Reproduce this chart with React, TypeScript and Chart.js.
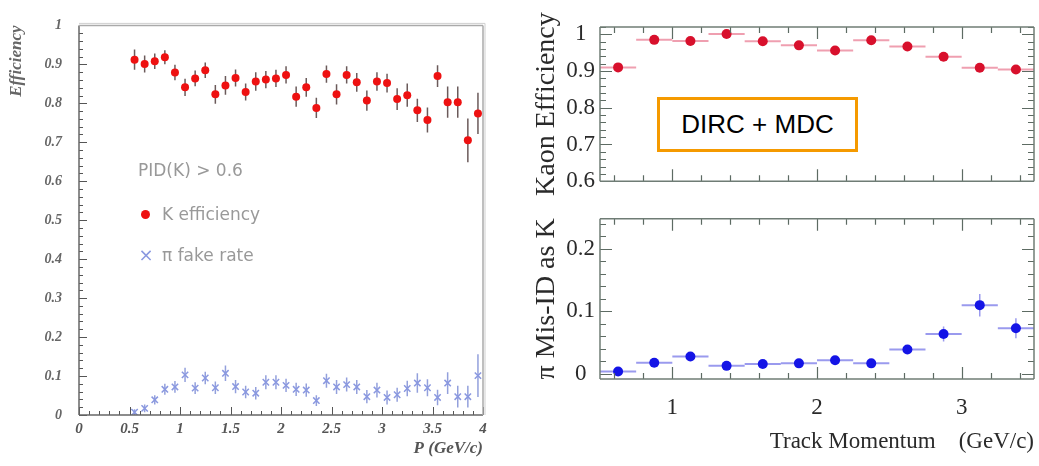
import React, { useEffect, useRef } from "react";
import { Chart, registerables } from "chart.js";

Chart.register(...registerables);

// ---------- Left panel data (bins of 0.1 GeV/c) ----------
const leftMomentum = [
  0.55, 0.65, 0.75, 0.85, 0.95, 1.05, 1.15, 1.25, 1.35, 1.45, 1.55, 1.65,
  1.75, 1.85, 1.95, 2.05, 2.15, 2.25, 2.35, 2.45, 2.55, 2.65, 2.75, 2.85,
  2.95, 3.05, 3.15, 3.25, 3.35, 3.45, 3.55, 3.65, 3.75, 3.85, 3.95,
];
const kEfficiency = [
  0.912, 0.901, 0.908, 0.918, 0.879, 0.841, 0.864, 0.885, 0.823, 0.846,
  0.865, 0.829, 0.856, 0.861, 0.864, 0.873, 0.817, 0.841, 0.788, 0.875,
  0.823, 0.873, 0.854, 0.807, 0.856, 0.852, 0.811, 0.821, 0.782, 0.757,
  0.87, 0.803, 0.803, 0.705, 0.774,
];
const kEfficiencyErr = [
  0.026, 0.022, 0.02, 0.018, 0.02, 0.022, 0.02, 0.02, 0.024, 0.024, 0.022,
  0.022, 0.024, 0.022, 0.022, 0.022, 0.026, 0.024, 0.026, 0.022, 0.026,
  0.022, 0.024, 0.026, 0.024, 0.024, 0.028, 0.03, 0.03, 0.032, 0.028, 0.04,
  0.04, 0.056, 0.053,
];
const piFakeRate = [
  0.007, 0.017, 0.039, 0.066, 0.072, 0.103, 0.069, 0.095, 0.07, 0.107, 0.073,
  0.059, 0.056, 0.084, 0.084, 0.076, 0.066, 0.064, 0.037, 0.088, 0.072,
  0.078, 0.072, 0.047, 0.064, 0.045, 0.052, 0.068, 0.082, 0.07, 0.045, 0.082,
  0.047, 0.047, 0.101,
];
const piFakeRateErr = [
  0.008, 0.01, 0.012, 0.014, 0.015, 0.018, 0.015, 0.016, 0.016, 0.02, 0.017,
  0.016, 0.016, 0.018, 0.018, 0.017, 0.017, 0.017, 0.014, 0.018, 0.018,
  0.018, 0.018, 0.017, 0.019, 0.018, 0.018, 0.02, 0.025, 0.022, 0.02, 0.028,
  0.028, 0.028, 0.055,
];
const leftXTicks = [0, 0.5, 1, 1.5, 2, 2.5, 3, 3.5, 4];
const leftYTicks = [0, 0.1, 0.2, 0.3, 0.4, 0.5, 0.6, 0.7, 0.8, 0.9, 1];

// ---------- Right panels data (bins of 0.25 GeV/c) ----------
const trackMomentum = [
  0.625, 0.875, 1.125, 1.375, 1.625, 1.875, 2.125, 2.375, 2.625, 2.875,
  3.125, 3.375,
];
const binHalfWidth = [
  0.125, 0.125, 0.125, 0.125, 0.125, 0.125, 0.125, 0.125, 0.125, 0.125,
  0.125, 0.125,
];
const kaonEfficiency = [
  0.91, 0.985, 0.982, 1.001, 0.981, 0.97, 0.956, 0.984, 0.967, 0.939, 0.909,
  0.904,
];
const kaonEfficiencyErr = [
  0.004, 0.003, 0.003, 0.003, 0.003, 0.003, 0.004, 0.004, 0.004, 0.005,
  0.006, 0.006,
];
const piMisId = [
  0.004, 0.018, 0.028, 0.013, 0.016, 0.017, 0.022, 0.017, 0.039, 0.064, 0.11,
  0.073,
];
const piMisIdErr = [
  0.003, 0.004, 0.005, 0.004, 0.004, 0.004, 0.005, 0.005, 0.007, 0.012,
  0.018, 0.016,
];
const rightXTicks = [1, 2, 3];
const rightTopYTicks = [0.6, 0.7, 0.8, 0.9, 1];
const rightBottomYTicks = [0, 0.1, 0.2];

const fmt = (v: number) => String(Math.round(v * 1000) / 1000);
const isMult = (v: number, step: number) =>
  Math.abs(v / step - Math.round(v / step)) < 1e-6;
const setTicks = (values: number[]) => (s: any) => {
  s.ticks = values.map((value) => ({ value }));
};

const pts = (xs: number[], ys: number[]) => xs.map((x, i) => ({ x, y: ys[i] }));

// Error bars plugin (drawn via the chart scales)
const errorBarsPlugin = {
  id: "errorBars",
  beforeDatasetsDraw(chart: any) {
    const { ctx, chartArea, scales } = chart;
    const xs = scales.x;
    const ys = scales.y;
    ctx.save();
    ctx.beginPath();
    ctx.rect(chartArea.left, chartArea.top, chartArea.right - chartArea.left, chartArea.bottom - chartArea.top);
    ctx.clip();
    chart.data.datasets.forEach((ds: any) => {
      ds.data.forEach((p: any, j: number) => {
        const px = xs.getPixelForValue(p.x);
        const py = ys.getPixelForValue(p.y);
        if (ds.xErr) {
          ctx.strokeStyle = ds.xErrColor || ds.errColor;
          ctx.lineWidth = ds.xErrWidth || 1.5;
          ctx.beginPath();
          ctx.moveTo(xs.getPixelForValue(p.x - ds.xErr[j]), py);
          ctx.lineTo(xs.getPixelForValue(p.x + ds.xErr[j]), py);
          ctx.stroke();
        }
        if (ds.yErr) {
          ctx.strokeStyle = ds.errColor;
          ctx.lineWidth = ds.errWidth || 1.5;
          ctx.beginPath();
          ctx.moveTo(px, ys.getPixelForValue(p.y - ds.yErr[j]));
          ctx.lineTo(px, ys.getPixelForValue(p.y + ds.yErr[j]));
          ctx.stroke();
        }
      });
    });
    ctx.restore();
  },
};

// Frame + ROOT-like inward ticks plugin
const frameTicksPlugin = {
  id: "frameTicks",
  afterDraw(chart: any, _args: any, opts: any) {
    if (!opts || !opts.enabled) return;
    const { ctx, chartArea: a, scales } = chart;
    const xs = scales.x;
    const ys = scales.y;
    ctx.save();
    const drawTicks = (axis: "x" | "y") => {
      const sc = axis === "x" ? xs : ys;
      const major = opts[axis + "Major"];
      const minor = opts[axis + "Minor"];
      const start = Math.ceil(sc.min / minor - 1e-6);
      const end = Math.floor(sc.max / minor + 1e-6);
      ctx.strokeStyle = opts.tickColor;
      ctx.lineWidth = opts.tickWidth;
      for (let k = start; k <= end; k++) {
        const v = k * minor;
        const len = isMult(v, major) ? opts.majorLen : opts.minorLen;
        const p = Math.round(sc.getPixelForValue(v)) + 0.5;
        ctx.beginPath();
        if (axis === "x") {
          ctx.moveTo(p, a.bottom);
          ctx.lineTo(p, a.bottom - len);
          if (opts.mirror) {
            ctx.moveTo(p, a.top);
            ctx.lineTo(p, a.top + len);
          }
        } else {
          ctx.moveTo(a.left, p);
          ctx.lineTo(a.left + len, p);
          if (opts.mirror) {
            ctx.moveTo(a.right, p);
            ctx.lineTo(a.right - len, p);
          }
        }
        ctx.stroke();
      }
    };
    drawTicks("x");
    drawTicks("y");
    const line = (x1: number, y1: number, x2: number, y2: number, c: string, w: number) => {
      ctx.strokeStyle = c;
      ctx.lineWidth = w;
      ctx.beginPath();
      ctx.moveTo(x1, y1);
      ctx.lineTo(x2, y2);
      ctx.stroke();
    };
    const f = opts.frame;
    line(a.left, a.top, a.left, a.bottom, f.left, f.width);
    line(a.left, a.bottom, a.right, a.bottom, f.bottom, f.width);
    line(a.left, a.top, a.right, a.top, f.top, f.width);
    line(a.right, a.top, a.right, a.bottom, f.right, f.width);
    if (f.double) {
      line(a.left, a.top - 2, a.right + 2, a.top - 2, f.double, 1);
      line(a.right + 2, a.top - 2, a.right + 2, a.bottom, f.double, 1);
    }
    ctx.restore();
  },
};

Chart.register(errorBarsPlugin as any, frameTicksPlugin as any);

const SERIF = "'Liberation Serif', 'Times New Roman', serif";
const noGrid = { display: true, drawOnChartArea: false, drawTicks: false, color: "transparent" };

function leftConfig(): any {
  return {
    type: "scatter",
    data: {
      datasets: [
        {
          label: "K efficiency",
          data: pts(leftMomentum, kEfficiency),
          yErr: kEfficiencyErr,
          errColor: "#6b5a5a",
          errWidth: 1.5,
          pointStyle: "circle",
          pointRadius: 4,
          backgroundColor: "#ee1111",
          borderColor: "#ee1111",
          borderWidth: 0,
        },
        {
          label: "π fake rate",
          data: pts(leftMomentum, piFakeRate),
          yErr: piFakeRateErr,
          errColor: "#93a0dc",
          errWidth: 1.5,
          pointStyle: "crossRot",
          pointRadius: 4.5,
          backgroundColor: "#8a98e0",
          borderColor: "#8a98e0",
          borderWidth: 1.5,
        },
      ],
    },
    options: {
      responsive: false,
      maintainAspectRatio: false,
      animation: false,
      events: [],
      layout: { padding: { left: 0, top: 10, right: 17, bottom: 0 } },
      plugins: {
        legend: { display: false },
        tooltip: { enabled: false },
        frameTicks: {
          enabled: true,
          xMajor: 0.5,
          xMinor: 0.1,
          yMajor: 0.1,
          yMinor: 0.02,
          majorLen: 8,
          minorLen: 4,
          mirror: false,
          tickColor: "#555",
          tickWidth: 1,
          frame: { left: "#666", bottom: "#666", top: "#aaa", right: "#aaa", width: 1.5, double: "#cfcfcf" },
        },
      },
      scales: {
        x: {
          type: "linear",
          min: 0,
          max: 4,
          grid: noGrid,
          border: { display: false },
          afterFit: (s: any) => { s.height = 51; },
          afterBuildTicks: setTicks(leftXTicks),
          ticks: {
            padding: 5,
            color: "#555",
            font: { family: SERIF, size: 15, style: "italic", weight: "bold" },
            callback: (v: number) => fmt(v),
            maxRotation: 0,
            autoSkip: false,
          },
          title: {
            display: true,
            text: "P (GeV/c)",
            align: "end",
            color: "#555",
            font: { family: SERIF, size: 17, style: "italic", weight: "bold" },
            padding: { top: 0, bottom: 7 },
          },
        },
        y: {
          type: "linear",
          min: 0,
          max: 1,
          grid: noGrid,
          border: { display: false },
          afterFit: (s: any) => { s.width = 79; },
          afterBuildTicks: setTicks(leftYTicks),
          ticks: {
            padding: 17,
            color: "#666",
            font: { family: SERIF, size: 14, style: "italic", weight: "bold" },
            callback: (v: number) => fmt(v),
            autoSkip: false,
          },
          title: {
            display: true,
            text: "Efficiency",
            align: "end",
            color: "#666",
            font: { family: SERIF, size: 17, style: "italic", weight: "bold" },
            padding: { top: 6, bottom: 0 },
          },
        },
      },
    },
  };
}

const rightFrame = {
  enabled: true,
  xMajor: 1,
  xMinor: 0.2,
  yMajor: 0.1,
  yMinor: 0.02,
  majorLen: 12,
  minorLen: 6,
  mirror: true,
  tickColor: "#5d6b63",
  tickWidth: 1.2,
  frame: { left: "#6f7c75", bottom: "#6f7c75", top: "#6f7c75", right: "#6f7c75", width: 1.5 },
};

function rightTopConfig(): any {
  return {
    type: "scatter",
    data: {
      datasets: [
        {
          label: "Kaon Efficiency",
          data: pts(trackMomentum, kaonEfficiency),
          yErr: kaonEfficiencyErr,
          xErr: binHalfWidth,
          errColor: "#e795a6",
          xErrColor: "#ef9fb0",
          xErrWidth: 2,
          pointStyle: "circle",
          pointRadius: 5,
          backgroundColor: "#d8102c",
          borderColor: "#d8102c",
          borderWidth: 0,
        },
      ],
    },
    options: {
      responsive: false,
      maintainAspectRatio: false,
      animation: false,
      events: [],
      layout: { padding: { left: 0, top: 27, right: 4, bottom: 5 } },
      plugins: { legend: { display: false }, tooltip: { enabled: false }, frameTicks: rightFrame },
      scales: {
        x: { type: "linear", min: 0.5, max: 3.5, display: false },
        y: {
          type: "linear",
          min: 0.6,
          max: 1.02,
          grid: noGrid,
          border: { display: false },
          afterFit: (s: any) => { s.width = 80; },
          afterBuildTicks: setTicks(rightTopYTicks),
          ticks: {
            padding: 5,
            crossAlign: "center",
            color: "#2a2a2a",
            font: { family: SERIF, size: 23 },
            callback: (v: number) => fmt(v),
            autoSkip: false,
          },
          title: {
            display: true,
            text: "Kaon Efficiency",
            color: "#2a2a2a",
            font: { family: SERIF, size: 28 },
            padding: { top: 10, bottom: 0 },
          },
        },
      },
    },
  };
}

function rightBottomConfig(): any {
  return {
    type: "scatter",
    data: {
      datasets: [
        {
          label: "π Mis-ID as K",
          data: pts(trackMomentum, piMisId),
          yErr: piMisIdErr,
          xErr: binHalfWidth,
          errColor: "#9a9aee",
          xErrColor: "#9a9aee",
          xErrWidth: 2,
          pointStyle: "circle",
          pointRadius: 5,
          backgroundColor: "#1414e6",
          borderColor: "#1414e6",
          borderWidth: 0,
        },
      ],
    },
    options: {
      responsive: false,
      maintainAspectRatio: false,
      animation: false,
      events: [],
      layout: { padding: { left: 0, top: 13, right: 4, bottom: 0 } },
      plugins: { legend: { display: false }, tooltip: { enabled: false }, frameTicks: rightFrame },
      scales: {
        x: {
          type: "linear",
          min: 0.5,
          max: 3.5,
          grid: noGrid,
          border: { display: false },
          afterFit: (s: any) => { s.height = 87; },
          afterBuildTicks: setTicks(rightXTicks),
          ticks: {
            padding: 15,
            color: "#2a2a2a",
            font: { family: SERIF, size: 23 },
            callback: (v: number) => fmt(v),
            maxRotation: 0,
            autoSkip: false,
          },
          title: {
            display: true,
            text: "Track Momentum    (GeV/c)",
            align: "end",
            color: "#2a2a2a",
            font: { family: SERIF, size: 23 },
            padding: { top: 0, bottom: 10 },
          },
        },
        y: {
          type: "linear",
          min: -0.008,
          max: 0.248,
          grid: noGrid,
          border: { display: false },
          afterFit: (s: any) => { s.width = 80; },
          afterBuildTicks: setTicks(rightBottomYTicks),
          ticks: {
            padding: 5,
            crossAlign: "center",
            color: "#2a2a2a",
            font: { family: SERIF, size: 23 },
            callback: (v: number) => fmt(v),
            autoSkip: false,
          },
          title: {
            display: true,
            text: "π Mis-ID as K",
            color: "#2a2a2a",
            font: { family: SERIF, size: 28 },
            padding: { top: 10, bottom: 0 },
          },
        },
      },
    },
  };
}

export default function App() {
  const leftRef = useRef<HTMLCanvasElement>(null);
  const topRef = useRef<HTMLCanvasElement>(null);
  const botRef = useRef<HTMLCanvasElement>(null);

  useEffect(() => {
    const charts: Chart[] = [];
    if (leftRef.current) charts.push(new Chart(leftRef.current, leftConfig()));
    if (topRef.current) charts.push(new Chart(topRef.current, rightTopConfig()));
    if (botRef.current) charts.push(new Chart(botRef.current, rightBottomConfig()));
    return () => charts.forEach((c) => c.destroy());
  }, []);

  const legendFont = "'DejaVu Sans', 'Noto Sans', sans-serif";
  const abs = (l: number, t: number, w: number, h: number): React.CSSProperties => ({
    position: "absolute",
    left: l,
    top: t,
    width: w,
    height: h,
  });

  return (
    <div
      style={{
        position: "fixed",
        left: 0,
        top: 0,
        width: 1039,
        height: 466,
        background: "#fff",
        overflow: "hidden",
      }}
    >
      <canvas ref={leftRef} width={500} height={466} style={{ ...abs(0, 0, 500, 466), display: "block" }} />
      <canvas ref={topRef} width={519} height={200} style={{ ...abs(520, 0, 519, 200), display: "block" }} />
      <canvas ref={botRef} width={519} height={266} style={{ ...abs(520, 200, 519, 266), display: "block" }} />

      {/* Left panel annotations */}
      <div style={{ ...abs(138, 160, 200, 20), font: `17px ${legendFont}`, lineHeight: "20px", color: "#999", whiteSpace: "nowrap" }}>
        PID(K) &gt; 0.6
      </div>
      <div style={{ ...abs(140.5, 209.5, 9, 9), borderRadius: "50%", background: "#ee1111" }} />
      <div style={{ ...abs(162, 204, 200, 20), font: `17px ${legendFont}`, lineHeight: "20px", color: "#999", whiteSpace: "nowrap" }}>
        K efficiency
      </div>
      <div style={{ ...abs(138, 245, 16, 20), font: `18px ${legendFont}`, lineHeight: "20px", color: "#8a98e0", textAlign: "center" }}>
        ×
      </div>
      <div style={{ ...abs(162, 245, 200, 20), font: `17px ${legendFont}`, lineHeight: "20px", color: "#999", whiteSpace: "nowrap" }}>
        π fake rate
      </div>

      {/* Right panel annotation */}
      <div
        style={{
          ...abs(657, 97, 201, 55),
          boxSizing: "border-box",
          border: "3px solid #f59a00",
          background: "#fff",
          display: "flex",
          alignItems: "center",
          justifyContent: "center",
          font: "26px 'Liberation Sans', Arial, sans-serif",
          color: "#000",
          whiteSpace: "nowrap",
        }}
      >
        DIRC + MDC
      </div>
    </div>
  );
}
